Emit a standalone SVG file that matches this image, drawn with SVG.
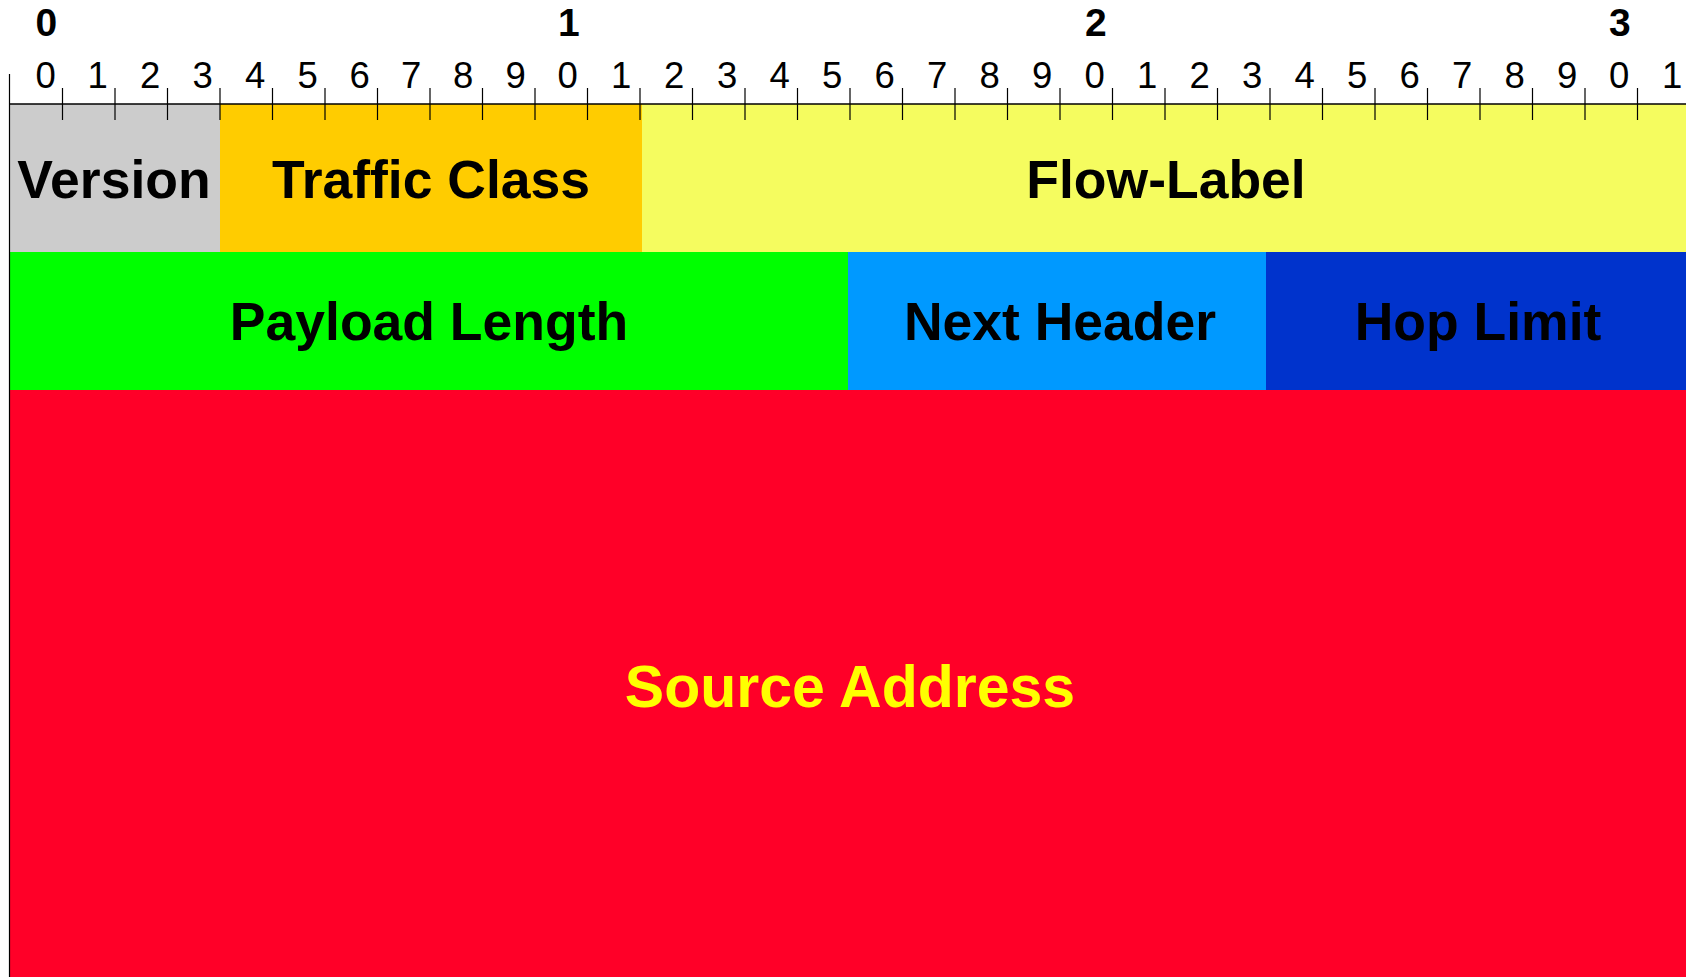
<svg xmlns="http://www.w3.org/2000/svg" width="1686" height="977" viewBox="0 0 1686 977">
<style>
.lbl{font-family:"Liberation Sans",Arial,sans-serif;font-weight:bold;font-size:53.5px;text-anchor:middle;fill:#000}
.bit{font-family:"Liberation Sans",Arial,sans-serif;font-size:36.5px;fill:#000}
.oct{font-family:"Liberation Sans",Arial,sans-serif;font-weight:bold;font-size:39px;fill:#000}
.tick{stroke:#000;stroke-width:1.2}
</style>
<rect width="1686" height="977" fill="#fff"/>
<g id="version"><rect x="10" y="104" width="210" height="148" fill="#cccccc"/><text class="lbl" x="114" y="198">Version</text></g>
<g id="traffic-class"><rect x="220" y="104" width="422" height="148" fill="#ffcc00"/><text class="lbl" x="431" y="198">Traffic Class</text></g>
<g id="flow-label"><rect x="642" y="104" width="1048" height="148" fill="#f5fc5f"/><text class="lbl" x="1166" y="198">Flow-Label</text></g>
<g id="payload-length"><rect x="10" y="252" width="838" height="138" fill="#00ff00"/><text class="lbl" x="429" y="340">Payload Length</text></g>
<g id="next-header"><rect x="848" y="252" width="418" height="138" fill="#0099ff"/><text class="lbl" x="1060" y="340">Next Header</text></g>
<g id="hop-limit"><rect x="1266" y="252" width="424" height="138" fill="#0033cc"/><text class="lbl" x="1478" y="340">Hop Limit</text></g>
<g id="source-address"><rect x="10" y="390" width="1680" height="600" fill="#ff0028"/><text class="lbl" x="850" y="707" style="font-size:59px;fill:#ffff00">Source Address</text></g>
<g id="ruler">
<line x1="9.5" y1="74" x2="9.5" y2="977" stroke="#000" stroke-width="1.2"/>
<line x1="9" y1="104" x2="1686" y2="104" stroke="#000" stroke-width="1.3"/>
<path class="tick" d="M62.5 88V120M115 88V120M167.5 88V120M220 88V120M272.5 88V120M325 88V120M377.5 88V120M430 88V120M482.5 88V120M535 88V120M587.5 88V120M640 88V120M692.5 88V120M745 88V120M797.5 88V120M850 88V120M902.5 88V120M955 88V120M1007.5 88V120M1060 88V120M1112.5 88V120M1165 88V120M1217.5 88V120M1270 88V120M1322.5 88V120M1375 88V120M1427.5 88V120M1480 88V120M1532.5 88V120M1585 88V120M1637.5 88V120"/>
<text class="oct" x="35.5" y="36">0</text>
<text class="oct" x="558" y="36">1</text>
<text class="oct" x="1085" y="36">2</text>
<text class="oct" x="1609" y="36">3</text>
<text class="bit" y="88"><tspan x="35.5">0</tspan><tspan x="87.5">1</tspan><tspan x="140">2</tspan><tspan x="192.5">3</tspan><tspan x="245">4</tspan><tspan x="297.5">5</tspan><tspan x="349.5">6</tspan><tspan x="401">7</tspan><tspan x="453">8</tspan><tspan x="505.5">9</tspan><tspan x="557.5">0</tspan><tspan x="611">1</tspan><tspan x="664">2</tspan><tspan x="717">3</tspan><tspan x="769.5">4</tspan><tspan x="822">5</tspan><tspan x="874.5">6</tspan><tspan x="927">7</tspan><tspan x="979.5">8</tspan><tspan x="1032">9</tspan><tspan x="1084.5">0</tspan><tspan x="1137">1</tspan><tspan x="1189.5">2</tspan><tspan x="1242">3</tspan><tspan x="1294.5">4</tspan><tspan x="1347">5</tspan><tspan x="1399.5">6</tspan><tspan x="1452">7</tspan><tspan x="1504.5">8</tspan><tspan x="1557">9</tspan><tspan x="1609">0</tspan><tspan x="1662">1</tspan></text>
</g>
</svg>
